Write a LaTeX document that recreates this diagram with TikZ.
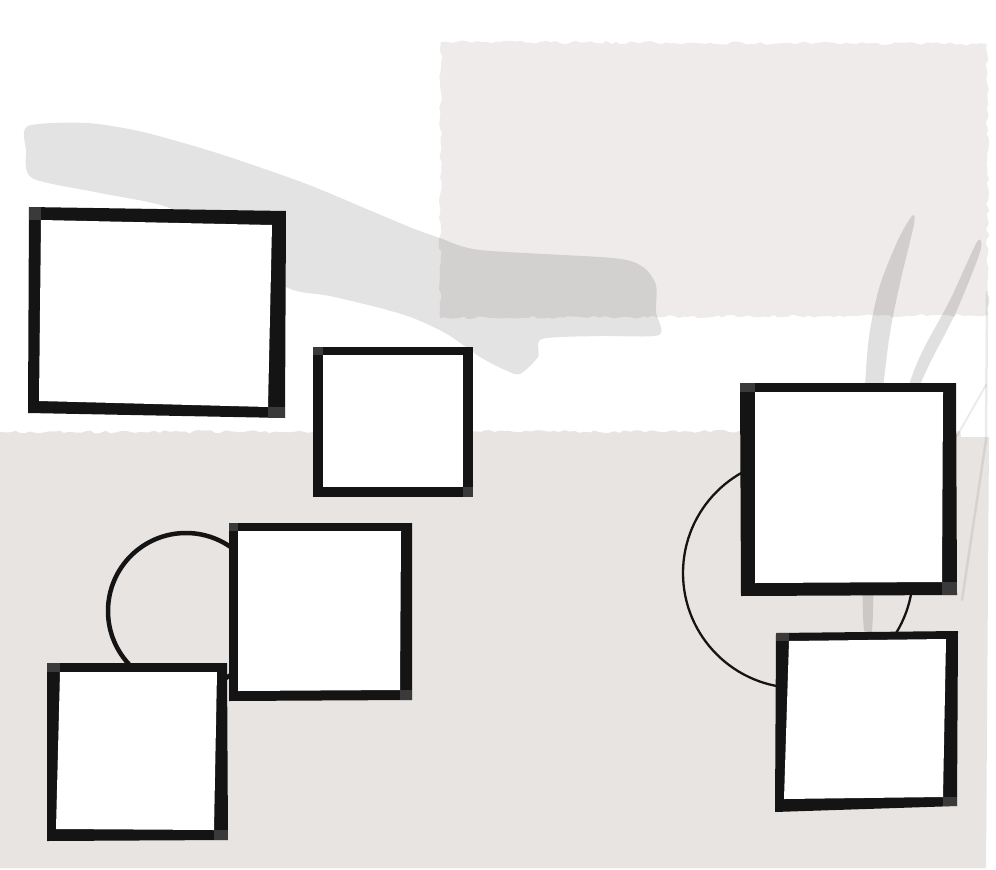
\documentclass[tikz,border=0pt]{standalone}
\usetikzlibrary{decorations.pathmorphing}
\definecolor{paperA}{HTML}{EEEBEA}
\definecolor{paperB}{HTML}{E8E4E2}
\definecolor{ink}{HTML}{141414}
\definecolor{cornergray}{HTML}{3A3A3A}
\newcommand{\pframe}[8]{%
  \fill[ink] #1 -- #2 -- #3 -- #4 -- cycle;
  \fill[cornergray] #1 rectangle #5;
  \fill[cornergray] #3 rectangle #7;
  \fill[white] #5 -- #6 -- #7 -- #8 -- cycle;
}
\begin{document}
\begin{tikzpicture}[x=1pt,y=-1pt,
  torn/.style={decorate, decoration={random steps, segment length=5pt, amplitude=1.6pt}},
  wash/.style={fill=black, fill opacity=0.11},
  scrib/.style={fill=black, fill opacity=0.12},
  scribline/.style={draw=black, draw opacity=0.08, line cap=round}]
\pgfmathsetseed{7}
\useasboundingbox (0,0) rectangle (996,870);
\fill[white] (0,0) rectangle (996,870);
% top-right paper
\fill[paperA, torn] (441,42) -- (987,44) -- (988,315) -- (440,318) -- cycle;
% bottom paper
\fill[paperB] (0,868) -- (0,432) decorate[torn]{-- (960,431)} -- (961,437) -- (989,437) -- (986,868) -- cycle;
% brush wash
\fill[wash] plot[smooth cycle, tension=0.45] coordinates {
  (28,126) (87,123) (143,132) (217,153) (304,183) (369,210) (412,228)
  (440,238) (480,250) (613,258) (643,267) (656,285) (656,312) (659,335)
  (600,336) (542,339) (538,357) (520,374) (505,370) (480,357) (447,334)
  (413,318) (380,308) (330,296) (286,287) (230,240) (167,207) (100,193) (32,178) (26,150)};
% scribbles
\fill[scrib] plot[smooth cycle, tension=0.5] coordinates {
  (912,216) (914,224) (900,283) (890,333) (883,390) (878,460) (874,560) (872,630)
  (864,630) (862,560) (862,450) (866,370) (870,330) (880,285) (898,240)};
\fill[scrib] plot[smooth cycle, tension=0.5] coordinates {
  (977,242) (980,252) (957,310) (933,357) (920,385) (908,420) (902,418)
  (910,382) (923,350) (950,300)};
\draw[scribline, line width=2.5pt] (987,292) -- (986,440) -- (962,600);
\draw[scribline, line width=2pt] (986,385) -- (957,436);
% circles
\draw[ink, line width=4.5pt] (186,611) circle[radius=78];
\draw[ink, line width=2.3pt] (798,573) circle[radius=115];
% frames
\pframe{(29,207)}{(286,211)}{(285,418)}{(28,413)}{(41,220)}{(272,225)}{(268,407)}{(39,401)}
\pframe{(313,347)}{(473,347)}{(473,497)}{(313,497)}{(323,355)}{(463,355)}{(463,487)}{(323,487)}
\pframe{(229,523)}{(412,523)}{(412,700)}{(229,701)}{(238,531)}{(401,531)}{(400,690)}{(238,691)}
\pframe{(47,663)}{(227,663)}{(228,840)}{(47,841)}{(60,672)}{(217,672)}{(214,830)}{(56,829)}
\pframe{(740,383)}{(956,383)}{(957,595)}{(741,596)}{(755,392)}{(943,392)}{(942,582)}{(755,583)}
\pframe{(776,633)}{(958,631)}{(957,806)}{(775,812)}{(789,641)}{(946,639)}{(943,797)}{(784,799)}
\end{tikzpicture}
\end{document}
